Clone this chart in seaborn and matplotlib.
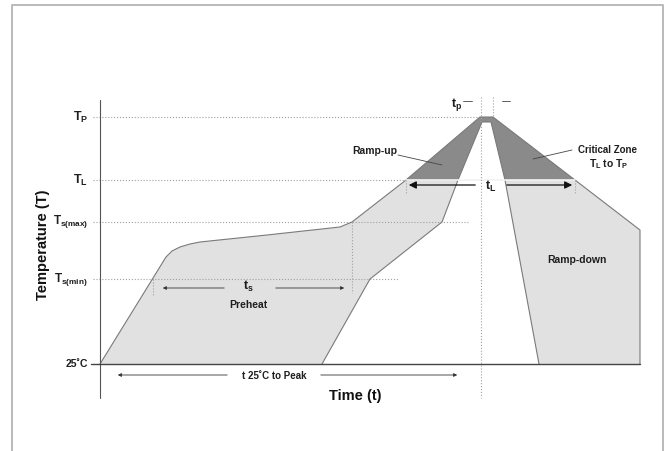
import matplotlib
matplotlib.use("Agg")

import matplotlib.pyplot as plt
import seaborn as sns

sns.set_theme(style="white")
plt.rcParams["font.family"] = ["Liberation Sans", "DejaVu Sans"]
plt.rcParams["font.weight"] = "bold"
plt.rcParams["mathtext.fontset"] = "custom"
plt.rcParams["mathtext.rm"] = "Liberation Sans:bold"
plt.rcParams["mathtext.it"] = "Liberation Sans:bold"
plt.rcParams["mathtext.bf"] = "Liberation Sans:bold"

# temperature levels (schematic units, 25C = 0)
T25 = 0
TS_MIN = 85
TS_MAX = 142
T_L = 184
T_P = 247

level_values = [T_P, T_L, TS_MAX, TS_MIN, T25]
level_labels = [r"$T_P$", r"$T_L$", r"$T_{s(max)}$", r"$T_{s(min)}$", "25˚C"]
level_sizes = [9, 9, 8.5, 8.5, 7.5]

# outer (upper) edge of the profile band
outer_t = [0, 66, 72, 80, 90, 100, 167, 240, 252, 306, 380, 393, 475, 540, 540]
outer_T = [0, 107, 113, 117, 120, 122, 129, 137, 142, 184, 247, 247, 184, 134, 0]

# inner edge, right side (from baseline up to the peak)
inner_right_t = [439, 405, 391]
inner_right_T = [0, 184, 242]

# inner edge, left side (from the peak down to baseline)
inner_left_t = [382, 358, 342, 270, 222]
inner_left_T = [242, 184, 142, 85, 0]

# critical zone (T_L to T_P)
crit_t = [306, 380, 393, 475, 405, 391, 382, 358]
crit_T = [184, 247, 247, 184, 184, 242, 242, 184]

LIGHT = "#e1e1e1"
DARK = "#8a8a8a"
EDGE = "#7a7a7a"
DOT = "#a0a0a0"
INK = "#1e1e1e"

fig = plt.figure(figsize=(6.67, 4.51), dpi=100)
ax = fig.add_axes([0, 0, 1, 1])
ax.set_xlim(-100, 567)
ax.set_ylim(-87, 364)
ax.axis("off")

# outer frame
ax.plot([-88, -88, 563, 563], [-87, 359, 359, -87], color="#b4b4b4", lw=1.3)

# profile band
band_t = outer_t + inner_right_t + inner_left_t
band_T = outer_T + inner_right_T + inner_left_T
ax.fill(band_t, band_T, color=LIGHT, lw=0, zorder=1)
ax.fill(crit_t, crit_T, color=DARK, lw=0, zorder=2)

sns.lineplot(x=outer_t, y=outer_T, sort=False, estimator=None, ax=ax,
             color=EDGE, lw=0.8, zorder=3)
sns.lineplot(x=inner_right_t + [382], y=inner_right_T + [242], sort=False,
             estimator=None, ax=ax, color=EDGE, lw=0.8, zorder=3)
sns.lineplot(x=inner_left_t, y=inner_left_T, sort=False, estimator=None, ax=ax,
             color=EDGE, lw=0.8, zorder=3)
ax.plot([306, 475], [T_L, T_L], color="#f2f2f2", lw=1.2, zorder=3)

# axes lines
ax.plot([0, 0], [-34, 264], color="#555555", lw=0.8, zorder=4)
ax.plot([-9, 540], [T25, T25], color="#444444", lw=1.0, zorder=4)

# dotted guide lines
dot_ends = [380, 358, 368, 298]
for lv, end in zip(level_values[:4], dot_ends):
    ax.plot([-7, end], [lv, lv], color=DOT, ls=":", lw=0.8, zorder=2.5)
ax.plot([252, 252], [TS_MAX, 71], color=DOT, ls=":", lw=0.8, zorder=4)
ax.plot([53, 53], [TS_MIN, 69], color=DOT, ls=":", lw=0.8, zorder=4)
ax.plot([381, 381], [267, -34], color=DOT, ls=":", lw=0.8, zorder=4)
ax.plot([393, 393], [267, T_P], color=DOT, ls=":", lw=0.8, zorder=4)
ax.plot([306, 306], [T_L, 171], color=DOT, ls=":", lw=0.8, zorder=4)
ax.plot([475, 475], [T_L, 171], color=DOT, ls=":", lw=0.8, zorder=4)

# y level labels
for lv, lab, fs in zip(level_values, level_labels, level_sizes):
    ax.text(-12, lv, lab, ha="right", va="center", fontsize=fs, color=INK)

big = dict(arrowstyle="-|>", color="#111111", lw=0.9, mutation_scale=11)
small = dict(arrowstyle="-|>", color="#333333", lw=0.6, mutation_scale=5)

# t_L arrow
ax.annotate("", xy=(306, 179), xytext=(378, 179), arrowprops=big, zorder=5)
ax.annotate("", xy=(475, 179), xytext=(404, 179), arrowprops=big, zorder=5)
ax.text(391, 178, r"$t_L$", ha="center", va="center", fontsize=9, color=INK)

# t_s arrow
ax.annotate("", xy=(60, 76), xytext=(127, 76), arrowprops=small, zorder=5)
ax.annotate("", xy=(247, 76), xytext=(173, 76), arrowprops=small, zorder=5)
ax.text(148, 78, r"$t_s$", ha="center", va="center", fontsize=9, color=INK)
ax.text(148, 59, "Preheat", ha="center", va="center", fontsize=7.5, color=INK)

# t 25C to peak arrow
ax.annotate("", xy=(15, -11), xytext=(130, -11), arrowprops=small, zorder=5)
ax.annotate("", xy=(360, -11), xytext=(218, -11), arrowprops=small, zorder=5)
ax.text(174, -12, "t 25˚C to Peak", ha="center", va="center", fontsize=7,
        color=INK)

# t_p marker
ax.text(357, 259, r"$t_p$", ha="center", va="center", fontsize=9, color=INK)
ax.plot([363, 372], [263, 263], color="#444444", lw=0.6)
ax.plot([402, 410], [263, 263], color="#444444", lw=0.6)

# zone labels
ax.text(275, 213, "Ramp-up", ha="center", va="center", fontsize=7.5, color=INK)
ax.plot([298, 342], [209, 199], color="#444444", lw=0.6, zorder=5)
ax.text(507, 214, "Critical Zone", ha="center", va="center", fontsize=7,
        color=INK)
ax.text(509, 200, r"$T_L$ to $T_P$", ha="center", va="center", fontsize=7.5,
        color=INK)
ax.plot([472, 433], [214, 205], color="#444444", lw=0.6, zorder=5)
ax.text(477, 104, "Ramp-down", ha="center", va="center", fontsize=7.5,
        color=INK)

# axis titles
ax.text(255, -32, "Time (t)", ha="center", va="center", fontsize=10.5,
        color="#111111")
ax.text(-57, 119, "Temperature (T)", ha="center", va="center", rotation=90,
        fontsize=10.5, color="#111111")

fig.savefig("out.png", dpi=100)
plt.close(fig)
